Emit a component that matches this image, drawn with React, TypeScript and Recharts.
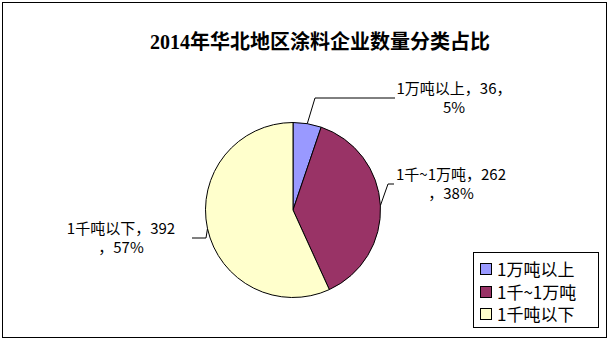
import React from "react";
import { PieChart, Pie, Cell, Legend } from "recharts";

const TITLE = "2014年华北地区涂料企业数量分类占比";
const categories = ["1万吨以上", "1千~1万吨", "1千吨以下"];
const counts = [36, 262, 392];
const percentLabels = ["5%", "38%", "57%"];

const COLORS = ["#9999FF", "#993366", "#FFFFCC"];
const FONT = "'Noto Sans CJK SC', 'Noto Sans', sans-serif";

const data = categories.map((name, i) => ({ name, value: counts[i], pct: percentLabels[i] }));

// label layout: offsets from pie centre (text centre, elbow, line end); wrap: where the text wraps
const LABEL_LAYOUT = [
  { tx: 161, ty: -123, ex: 22, ey: -112, lx: 102, ly: -112, wrapAfterValue: false },
  { tx: 158, ty: -37, ex: 95, ey: -26, lx: 101, ly: -26, wrapAfterValue: true },
  { tx: -172, ty: 17, ex: -87, ey: 28, lx: -101, ly: 28, wrapAfterValue: true },
];

const RAD = Math.PI / 180;

const renderLabel = (props: any) => {
  const { cx, cy, midAngle, outerRadius, index, name, value, payload } = props;
  const L = LABEL_LAYOUT[index];
  const sx = cx + outerRadius * Math.cos(-midAngle * RAD);
  const sy = cy + outerRadius * Math.sin(-midAngle * RAD);
  const pct = payload?.pct ?? "";
  const line1 = L.wrapAfterValue ? `${name}，${value}` : `${name}，${value}，`;
  const line2 = L.wrapAfterValue ? `，${pct}` : pct;
  return (
    <g>
      <polyline
        points={`${sx},${sy} ${cx + L.ex},${cy + L.ey} ${cx + L.lx},${cy + L.ly}`}
        fill="none"
        stroke="#000"
        strokeWidth={1}
      />
      <text x={cx + L.tx} y={cy + L.ty} textAnchor="middle" dominantBaseline="central" fontSize={15} fontFamily={FONT} fill="#000">
        {line1}
      </text>
      <text x={cx + L.tx} y={cy + L.ty + 19} textAnchor="middle" dominantBaseline="central" fontSize={15} fontFamily={FONT} fill="#000">
        {line2}
      </text>
    </g>
  );
};

const LegendContent = () => (
  <div
    style={{
      boxSizing: "border-box",
      width: 126,
      height: 76,
      border: "1px solid #000",
      background: "#fff",
      padding: "5px 0 0 6px",
      fontFamily: FONT,
      fontSize: 17,
      color: "#000",
    }}
  >
    {data.map((d, i) => (
      <div key={d.name} style={{ display: "flex", alignItems: "center", height: 22.5, lineHeight: "20px" }}>
        <span
          style={{
            display: "inline-block",
            boxSizing: "border-box",
            width: 12,
            height: 12,
            background: COLORS[i],
            border: "1px solid #000",
            marginRight: 5,
          }}
        />
        <span style={{ lineHeight: "20px" }}>{d.name}</span>
      </div>
    ))}
  </div>
);

export default function App() {
  return (
    <div style={{ position: "fixed", left: 0, top: 0, width: 609, height: 339, background: "#fff" }}>
      <div
        style={{
          position: "absolute",
          left: 2,
          top: 2,
          width: 605,
          height: 336,
          boxSizing: "border-box",
          border: "1px solid #000",
        }}
      />
      <div
        style={{
          position: "absolute",
          left: 0,
          width: 640,
          top: 29,
          textAlign: "center",
          fontFamily: "'Liberation Serif', 'Noto Sans CJK SC', serif",
          fontWeight: "bold",
          fontSize: 20,
          lineHeight: "26px",
          color: "#000",
        }}
      >
        {TITLE}
      </div>
      <div style={{ position: "absolute", left: 0, top: 0 }}>
        <PieChart width={609} height={339} margin={{ top: 0, right: 0, bottom: 0, left: 0 }}>
          <Pie
            data={data}
            dataKey="value"
            nameKey="name"
            cx={293}
            cy={210}
            outerRadius={87.5}
            startAngle={90}
            endAngle={-270}
            stroke="#000"
            strokeWidth={1}
            label={renderLabel}
            labelLine={false}
            isAnimationActive={false}
          >
            {data.map((d, i) => (
              <Cell key={d.name} fill={COLORS[i]} />
            ))}
          </Pie>
          <Legend
            content={<LegendContent />}
            wrapperStyle={{ position: "absolute", left: 473, top: 252, width: 126, height: 76 }}
          />
        </PieChart>
      </div>
    </div>
  );
}
